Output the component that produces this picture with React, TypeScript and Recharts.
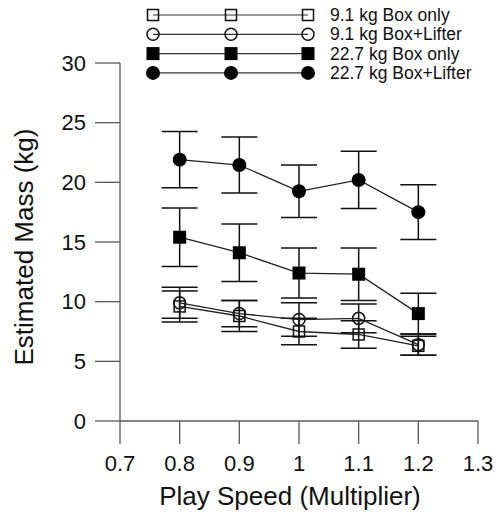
import React from "react";
import {
  ComposedChart,
  Line,
  XAxis,
  YAxis,
  ErrorBar,
  Legend,
  Label,
} from "recharts";

// play speed multipliers on the x axis
const speeds = [0.8, 0.9, 1.0, 1.1, 1.2];
const xTicks = [0.7, 0.8, 0.9, 1, 1.1, 1.2, 1.3];
const yTicks = [0, 5, 10, 15, 20, 25, 30];

// estimated mass (kg) and error bar half-lengths
const box91 = [9.6, 8.8, 7.5, 7.25, 6.3];
const box91Err = [1.3, 1.3, 1.1, 1.15, 0.8];
const lifter91 = [9.9, 9.0, 8.5, 8.6, 6.4];
const lifter91Err = [1.3, 1.1, 1.4, 1.2, 0.9];
const box227 = [15.4, 14.1, 12.4, 12.3, 9.0];
const box227Err = [2.45, 2.4, 2.1, 2.2, 1.7];
const lifter227 = [21.9, 21.45, 19.25, 20.2, 17.5];
const lifter227Err = [2.35, 2.35, 2.2, 2.4, 2.3];

const FONT = '"Liberation Sans", Arial, sans-serif';
const AXIS = "#5a5a5a";

type Kind = "openSquare" | "openCircle" | "square" | "circle";

const toRows = (vals: number[], errs: number[]) =>
  speeds.map((s, i) => ({ speed: s, mass: vals[i], err: errs[i] }));

const series: { name: string; kind: Kind; data: any[] }[] = [
  { name: "9.1 kg Box only", kind: "openSquare", data: toRows(box91, box91Err) },
  { name: "9.1 kg Box+Lifter", kind: "openCircle", data: toRows(lifter91, lifter91Err) },
  { name: "22.7 kg Box only", kind: "square", data: toRows(box227, box227Err) },
  { name: "22.7 kg Box+Lifter", kind: "circle", data: toRows(lifter227, lifter227Err) },
];

const Marker = ({ cx, cy, kind }: { cx: number; cy: number; kind: Kind }) => {
  if (cx == null || cy == null) return null;
  switch (kind) {
    case "openSquare":
      return <rect x={cx - 5.5} y={cy - 5.5} width={11} height={11} fill="none" stroke="#111" strokeWidth={1.5} />;
    case "openCircle":
      return <circle cx={cx} cy={cy} r={6} fill="none" stroke="#111" strokeWidth={1.5} />;
    case "square":
      return <rect x={cx - 6.5} y={cy - 6.5} width={13} height={13} fill="#000" />;
    default:
      return <circle cx={cx} cy={cy} r={7} fill="#000" />;
  }
};

// axis ticks: position comes from the axis scale (payload.coordinate)
const YTick = (p: any) => {
  const y = p.payload.coordinate;
  return (
    <g>
      <line x1={95} x2={120} y1={y} y2={y} stroke={AXIS} strokeWidth={1.3} />
      <text x={86} y={y + 7.5} textAnchor="end" fontSize={22} fontFamily={FONT} fill="#111">
        {p.payload.value}
      </text>
    </g>
  );
};

const XTick = (p: any) => {
  const x = p.payload.coordinate;
  return (
    <g>
      <line x1={x} x2={x} y1={421} y2={444} stroke={AXIS} strokeWidth={1.3} />
      <text x={x} y={471} textAnchor="middle" fontSize={22} fontFamily={FONT} fill="#111">
        {p.payload.value}
      </text>
    </g>
  );
};

const LegendBox = () => (
  <svg width={360} height={84}>
    {series.map((s, i) => {
      const y = 15 + i * 19.3;
      return (
        <g key={s.name}>
          <line x1={15} x2={170} y1={y} y2={y} stroke="#333" strokeWidth={1.2} />
          {[15, 93, 170].map((x) => (
            <Marker key={x} cx={x} cy={y} kind={s.kind} />
          ))}
          <text x={192} y={y + 6} fontSize={17.5} fontFamily={FONT} fill="#111">
            {s.name}
          </text>
        </g>
      );
    })}
  </svg>
);

export default function App() {
  return (
    <div style={{ position: "absolute", left: 0, top: 0, background: "#fff" }}>
      <ComposedChart
        width={498}
        height={514}
        margin={{ top: 63, right: 20, bottom: 0, left: 0 }}
      >
        <XAxis
          type="number"
          dataKey="speed"
          domain={[0.7, 1.3]}
          ticks={xTicks}
          height={93}
          tickLine={false}
          stroke={AXIS}
          strokeWidth={1.3}
          tick={<XTick />}
        >
          <Label
            content={() => (
              <text x={290} y={505} textAnchor="middle" fontSize={26} fontFamily={FONT} fill="#111">
                Play Speed (Multiplier)
              </text>
            )}
          />
        </XAxis>
        <YAxis
          type="number"
          domain={[0, 30]}
          ticks={yTicks}
          width={120}
          tickLine={false}
          stroke={AXIS}
          strokeWidth={1.3}
          tick={<YTick />}
        >
          <Label
            content={() => (
              <text
                x={33}
                y={247}
                transform="rotate(-90 33 247)"
                textAnchor="middle"
                fontSize={26}
                fontFamily={FONT}
                fill="#111"
              >
                Estimated Mass (kg)
              </text>
            )}
          />
        </YAxis>
        <Legend
          layout="vertical"
          align="center"
          verticalAlign="middle"
          wrapperStyle={{ top: 0, left: 138 }}
          content={() => <LegendBox />}
        />
        {series.map((s) => (
          <Line
            key={s.name}
            name={s.name}
            data={s.data}
            dataKey="mass"
            type="linear"
            stroke="#222"
            strokeWidth={1.3}
            isAnimationActive={false}
            dot={(p: any) => <Marker key={p.index} cx={p.cx} cy={p.cy} kind={s.kind} />}
            activeDot={false}
          >
            <ErrorBar dataKey="err" width={18} stroke="#111" strokeWidth={1.5} direction="y" />
          </Line>
        ))}
      </ComposedChart>
    </div>
  );
}
